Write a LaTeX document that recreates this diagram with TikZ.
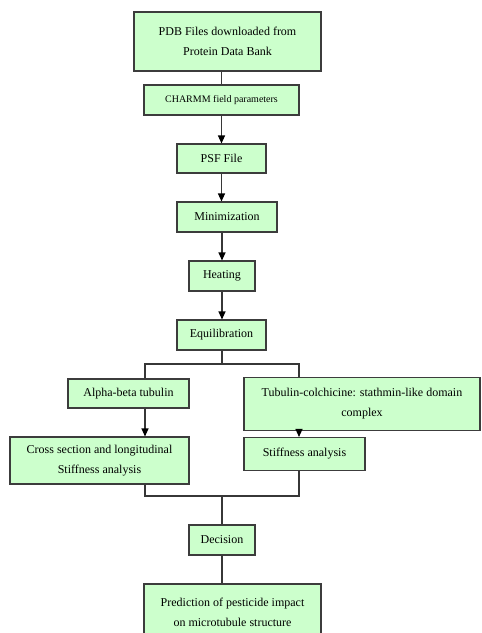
\documentclass[tikz,border=0pt]{standalone}
\usepackage{fontspec}
\setmainfont{Liberation Serif}
\usetikzlibrary{arrows.meta}
\definecolor{boxfill}{RGB}{204,255,204}
\definecolor{boxdraw}{RGB}{60,60,60}
\definecolor{linecol}{RGB}{55,55,55}
\tikzset{
  box/.style={draw=boxdraw, fill=boxfill, line width=1.1pt, inner sep=0pt, align=center,
    font=\fontsize{12}{20}\selectfont},
  link/.style={draw=linecol, line width=1.1pt},
  arr/.style={link, -{Triangle[length=8pt,width=7pt,color=black]}}
}
\begin{document}
\begin{tikzpicture}[x=1pt,y=-1pt]
\clip (0,0) rectangle (482,633);
\fill[white] (0,0) rectangle (482,633);
% nodes
\node[box, minimum width=187pt, minimum height=59pt] (pdb) at (227.5,41.5) {PDB Files downloaded from\\Protein Data Bank};
\node[box, minimum width=155pt, minimum height=30pt, font=\fontsize{10}{12}\selectfont] (charmm) at (221.5,100) {CHARMM field parameters};
\node[box, minimum width=89pt, minimum height=29pt] (psf) at (221.5,158.5) {PSF File};
\node[box, minimum width=100pt, minimum height=30pt] (mini) at (227,217) {Minimization};
\node[box, minimum width=66pt, minimum height=30pt] (heat) at (222,276) {Heating};
\node[box, minimum width=89pt, minimum height=30pt] (equ) at (221.5,335) {Equilibration};
\node[box, minimum width=121pt, minimum height=29pt] (alpha) at (128.5,393.5) {Alpha-beta tubulin};
\node[box, minimum width=236pt, minimum height=53pt] (tub) at (362,404) {Tubulin-colchicine: stathmin-like domain\\complex};
\node[box, minimum width=179pt, minimum height=47pt] (cross) at (99.5,460.5) {Cross section and longitudinal\\Stiffness analysis};
\node[box, minimum width=121pt, minimum height=33pt] (stiff) at (304.5,454) {Stiffness analysis};
\node[box, minimum width=66pt, minimum height=30pt] (dec) at (222,540) {Decision};
\node[box, minimum width=177pt, minimum height=56pt] (pred) at (232.5,612) {Prediction of pesticide impact\\on microtubule structure};
% helper coordinates
\coordinate (lx) at (145,0);
\coordinate (rx) at (299,0);
\coordinate (split) at (222,364);
\coordinate (merge) at (222,496);
% connectors
\draw[link] (pdb.south -| charmm.north) -- (charmm.north);
\draw[arr] (charmm.south) -- (psf.north);
\draw[arr] (psf.south) -- (mini.north -| psf.south);
\draw[arr] (mini.south -| heat.north) -- (heat.north);
\draw[arr] (heat.south) -- (equ.north -| heat.south);
\draw[link] (equ.south -| split) -- (split);
\draw[link] (alpha.north -| lx) |- (split) -| (tub.north -| rx);
\draw[arr] (alpha.south -| lx) -- (cross.north -| lx);
\draw[arr] (tub.south -| rx) -- (stiff.north -| rx);
\draw[link] (cross.south -| lx) |- (merge) -| (stiff.south -| rx);
\draw[link] (merge) -- (dec.north);
\draw[link] (dec.south) -- (pred.north -| dec.south);
\end{tikzpicture}
\end{document}
